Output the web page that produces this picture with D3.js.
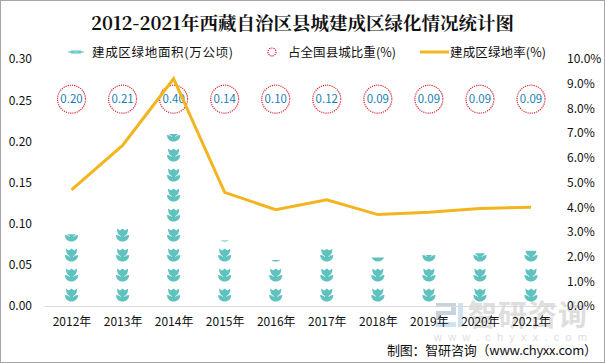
<!DOCTYPE html>
<html><head><meta charset="utf-8">
<script src="https://cdn.jsdelivr.net/npm/d3@7"></script>
<style>html,body{margin:0;padding:0;background:#fff}svg{display:block}</style></head>
<body><svg id="c" width="605" height="363"></svg>
<script>
const years=["2012年","2013年","2014年","2015年","2016年","2017年","2018年","2019年","2020年","2021年"];
const area=[0.087,0.094,0.209,0.0795,0.056,0.069,0.059,0.062,0.064,0.067];
const share=["0.20","0.21","0.40","0.14","0.10","0.12","0.09","0.09","0.09","0.09"];
const rate=[4.7,6.5,9.2,4.6,3.9,4.3,3.7,3.8,3.95,4.0];
const leftTicks=[0,0.05,0.10,0.15,0.20,0.25,0.30];
const rightTicks=[0,1,2,3,4,5,6,7,8,9,10];
const sans='"Noto Sans CJK SC","Liberation Sans",sans-serif';
const svg=d3.select("#c");
svg.append("rect").attr("x",.5).attr("y",.5).attr("width",604).attr("height",362).attr("fill","#fff").attr("stroke","#a6a6a6");
const x=d3.scalePoint().domain(years).range([71.5,531]);
const yL=d3.scaleLinear().domain([0,0.30]).range([306,59]);
const yR=d3.scaleLinear().domain([0,10]).range([306,59]);
// watermark
const wm=svg.append("g");
wm.append("text").attr("x",468).attr("y",326).attr("font-family",sans).attr("font-size",29).attr("font-weight",700).attr("fill","#dedede").attr("textLength",119).attr("lengthAdjust","spacing").text("智研咨询");
wm.append("text").attr("x",434).attr("y",341).attr("font-family",'"Liberation Sans",sans-serif').attr("font-size",11).attr("fill","#e0e0e0").attr("textLength",153).attr("lengthAdjust","spacing").text("www.chyxx.com");
wm.append("path").attr("d","M436 303h20v12h-15v5h-5v-9h15v-4h-15z").attr("fill","#c9d3de");
wm.append("path").attr("d","M458 303h5v24h-5zM436 322h20v5h-20z").attr("fill","#cfe2f2");
// tick labels
const tickFont=12;
const left=d3.axisLeft(yL).tickValues(leftTicks).tickFormat(d3.format(".2f")).tickSize(0).tickPadding(0);
const gl=svg.append("g").attr("transform","translate(32,0)").call(left);
const right=d3.axisRight(yR).tickValues(rightTicks).tickFormat(d=>d.toFixed(1)+"%").tickSize(0).tickPadding(0);
const gr=svg.append("g").attr("transform","translate(567,0)").call(right);
[gl,gr].forEach(g=>{g.select(".domain").remove();g.selectAll("text").attr("font-family",sans).attr("font-size",tickFont).attr("fill","#111");});
const bottom=d3.axisBottom(x).tickSize(0).tickPadding(0);
const gb=svg.append("g").attr("transform","translate(0,306)").call(bottom);
gb.select(".domain").remove();
gb.selectAll("text").attr("font-family",sans).attr("font-size",12).attr("fill","#111").attr("y",11);
svg.append("line").attr("x1",45).attr("x2",557).attr("y1",306.5).attr("y2",306.5).attr("stroke","#d9d9d9");
// tulip symbol
const tulip="M-6.6,0 C-4.6,0 -3,0.8 -1.8,2 L-1.8,1 C-4.2,0.4 -5.6,-2.2 -5.6,-6.4 L-2.6,-4.4 L0,-6.6 L2.6,-4.4 L5.6,-6.4 C5.6,-2.2 4.2,0.4 1.8,1 L1.8,2 C3,0.8 4.6,0 6.6,0 C6.6,3.8 3.6,6.6 0,6.6 C-3.6,6.6 -6.6,3.8 -6.6,0 Z";
const pitch=20,base=295;
const defs=svg.append("defs");
years.forEach((y,i)=>{
  defs.append("clipPath").attr("id","cp"+i).append("rect").attr("x",x(y)-10).attr("width",20).attr("y",yL(area[i])).attr("height",306-yL(area[i]));
  const n=Math.ceil((306-yL(area[i]))/pitch);
  svg.append("g").attr("clip-path",`url(#cp${i})`).selectAll("path").data(d3.range(n)).join("path")
    .attr("d",tulip).attr("fill","#5fc2bf").attr("transform",k=>`translate(${x(y)},${base-k*pitch})`);
});
// share circles
const cy=yL(0.25)-1;
const sg=svg.selectAll("g.s").data(years).join("g").attr("class","s").attr("transform",d=>`translate(${x(d)},${cy})`);
sg.append("circle").attr("r",14).attr("fill","none").attr("stroke","#d9222f").attr("stroke-width",1.2).attr("stroke-dasharray","1.2 1");
sg.append("text").attr("text-anchor","middle").attr("dy","0.36em").attr("font-family",sans).attr("font-size",11.5).attr("fill","#1a7fb5").text((d,i)=>share[i]);
// line
const line=d3.line().x((d,i)=>x(years[i])).y(d=>yR(d));
svg.append("path").datum(rate).attr("d",line).attr("fill","none").attr("stroke","#f4b41f").attr("stroke-width",3).attr("stroke-linejoin","miter");
// title
svg.append("text").attr("x",302.5).attr("y",30).attr("text-anchor","middle").attr("font-family",'"Noto Serif CJK SC","Liberation Serif","Noto Sans CJK SC",serif').attr("font-size",18.5).attr("font-weight",700).attr("fill","#111").text("2012-2021年西藏自治区县城建成区绿化情况统计图");
// legend
const leg=svg.append("g").attr("font-family",sans).attr("font-size",12.5).attr("fill","#111");
leg.append("path").attr("d","M0,0 C5,-2 11,-2 16,0 C11,2 5,2 0,0Z M3,-2 L13,2 M3,2 L13,-2").attr("transform","translate(68,52)").attr("fill","#5fc2bf").attr("stroke","#9fdcd9").attr("stroke-width",.6);
leg.append("text").attr("x",92).attr("y",56.5).attr("textLength",141).attr("lengthAdjust","spacing").text("建成区绿地面积(万公顷)");
leg.append("circle").attr("cx",272).attr("cy",52).attr("r",4).attr("fill","none").attr("stroke","#d9222f").attr("stroke-width",1.2).attr("stroke-dasharray","1.2 1");
leg.append("text").attr("x",288).attr("y",56.5).attr("textLength",108).attr("lengthAdjust","spacing").text("占全国县城比重(%)");
leg.append("line").attr("x1",420).attr("x2",449).attr("y1",52).attr("y2",52).attr("stroke","#f4b41f").attr("stroke-width",3);
leg.append("text").attr("x",450).attr("y",56.5).attr("textLength",96).attr("lengthAdjust","spacing").text("建成区绿地率(%)");
// source
svg.append("text").attr("x",387).attr("y",355).attr("font-family",sans).attr("font-size",13).attr("fill","#111").attr("textLength",210).attr("lengthAdjust","spacing").text("制图：智研咨询（www.chyxx.com）");
</script></body></html>
